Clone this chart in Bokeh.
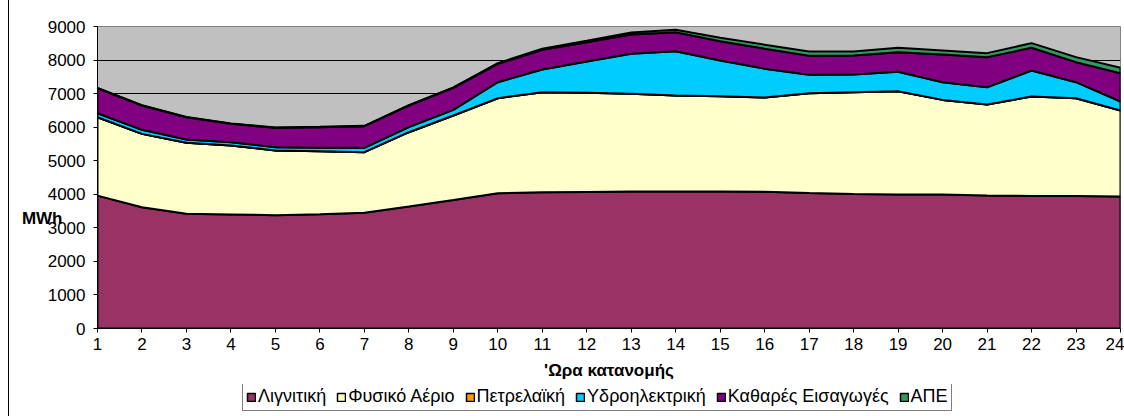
import numpy as np
from bokeh.plotting import figure
from bokeh.layouts import column
from bokeh.models import Range1d, FixedTicker, Legend, LegendItem, LinearAxis
from bokeh.embed import file_html
from bokeh.resources import INLINE

hours = list(range(1, 25))
lignite = [3960, 3615, 3418, 3400, 3377, 3406, 3447, 3635, 3830, 4030, 4060, 4070,
           4080, 4080, 4080, 4075, 4040, 4010, 3995, 3995, 3963, 3950, 3945, 3934]
gas = [2337, 2185, 2115, 2053, 1927, 1878, 1807, 2215, 2517, 2833, 2982, 2954,
       2914, 2863, 2843, 2808, 2972, 3032, 3077, 2818, 2712, 2963, 2918, 2562]
oil = [0] * 24
hydro = [119, 120, 100, 100, 100, 99, 129, 150, 170, 477, 676, 932,
         1192, 1322, 1063, 860, 548, 527, 578, 527, 516, 775, 477, 269]
imports = [745, 725, 664, 546, 576, 617, 646, 645, 655, 547, 587, 577,
           574, 565, 577, 595, 566, 567, 586, 826, 896, 677, 597, 844]
res = [10, 10, 10, 10, 10, 10, 10, 10, 15, 20, 30, 40,
       60, 70, 100, 120, 130, 120, 129, 119, 119, 139, 150, 159]

names = ["Λιγνιτική", "Φυσικό Αέριο", "Πετρελαϊκή", "Υδροηλεκτρική", "Καθαρές Εισαγωγές", "ΑΠΕ"]
colors = ["#993366", "#FFFFCC", "#FF9900", "#00CCFF", "#800080", "#339966"]
series = [lignite, gas, oil, hydro, imports, res]
y_ticks = list(range(0, 9001, 1000))
y_unit = "MWh"
y_unit_pos = 3278
x_title = "'Ωρα κατανομής"

FONT = "Liberation Sans"
SIDE = {"border-left": "1px solid black", "margin-left": "8px"}

p = figure(frame_width=1022, frame_height=302,
           min_border_left=88, min_border_right=5, min_border_top=26, min_border_bottom=56,
           x_range=Range1d(1, 24), y_range=Range1d(0, 9000),
           output_backend="svg", toolbar_location=None,
           background_fill_color="#C0C0C0", border_fill_color="white")
p.styles = SIDE

p.outline_line_color = "#808080"
p.xgrid.visible = False
p.ygrid.ticker = FixedTicker(ticks=y_ticks[1:-1])
p.ygrid.grid_line_color = "black"
p.ygrid.grid_line_width = 1

x = np.array(hours, dtype=float)
bottom = np.zeros(24)
for name, col, vals in zip(names, colors, series):
    top = bottom + np.array(vals, dtype=float)
    xs = list(x) + list(x[::-1])
    ys = list(top) + list(bottom[::-1])
    p.patch(xs, ys, fill_color=col, line_color="black", line_width=2)
    bottom = top

xa = p.xaxis[0]
ya = p.yaxis[0]
for ax in (xa, ya):
    ax.axis_line_color = "black"
    ax.axis_line_width = 1
    ax.major_tick_line_color = "black"
    ax.major_tick_in = 0
    ax.major_tick_out = 4
    ax.minor_tick_line_color = None
    ax.major_label_text_font = FONT
    ax.major_label_text_font_size = "17px"
    ax.major_label_text_color = "black"

xa.ticker = FixedTicker(ticks=hours)
ya.ticker = FixedTicker(ticks=y_ticks)
ya.major_label_standoff = 8
xa.major_label_standoff = 5
xa.axis_label = x_title
xa.axis_label_text_font = FONT
xa.axis_label_text_font_style = "bold"
xa.axis_label_text_font_size = "17px"
xa.axis_label_standoff = 8
xa.axis_label_text_color = "black"

# unit label "MWh" as an extra axis carrying one labelled tick
ua = LinearAxis(ticker=FixedTicker(ticks=[y_unit_pos]),
                major_label_overrides={y_unit_pos: y_unit},
                axis_line_color=None, major_tick_line_color=None, minor_tick_line_color=None,
                major_tick_in=0, major_tick_out=0,
                major_label_standoff=-18,
                major_label_text_font=FONT, major_label_text_font_style="bold",
                major_label_text_font_size="17px", major_label_text_color="black")
p.add_layout(ua, "left")

# legend strip below the chart
q = figure(frame_width=1115, frame_height=32, min_border=0,
           x_range=Range1d(0, 1), y_range=Range1d(0, 1),
           x_axis_type=None, y_axis_type=None,
           output_backend="svg", toolbar_location=None,
           background_fill_color="white", border_fill_color="white")
q.styles = SIDE
q.outline_line_color = None
items = []
for name, col in zip(names, colors):
    r = q.patch([5, 6, 6], [5, 5, 6], fill_color=col, line_color="black", line_width=1.5)
    items.append(LegendItem(label=name, renderers=[r]))

legend = Legend(items=items, orientation="horizontal", location=(233, 5))
legend.label_text_font = FONT
legend.label_text_font_size = "18px"
legend.label_text_color = "black"
legend.glyph_width = 10
legend.glyph_height = 10
legend.label_standoff = 2
legend.spacing = 10
legend.padding = 3
legend.margin = 0
legend.label_height = 14
legend.border_line_color = "black"
legend.border_line_width = 1
legend.background_fill_color = "white"
legend.background_fill_alpha = 1
q.add_layout(legend)

layout = column(p, q, spacing=0)
open("out.html", "w").write(file_html(layout, INLINE))
